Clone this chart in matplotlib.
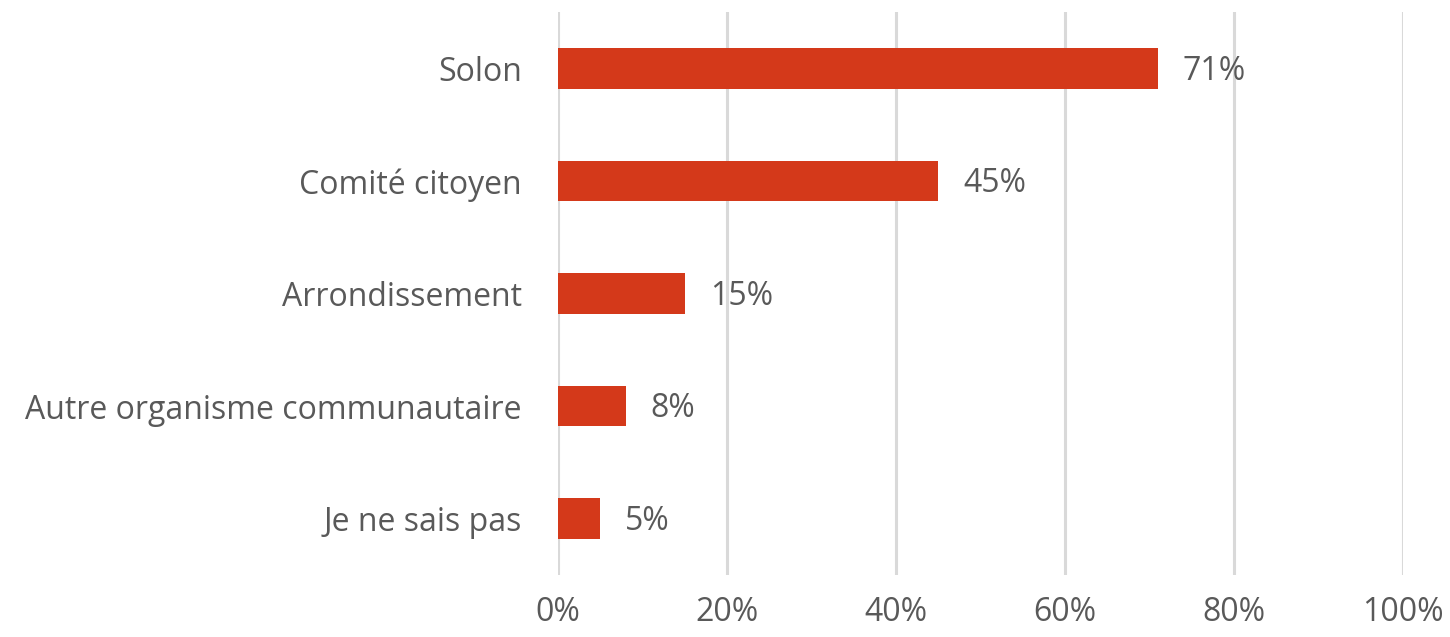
import matplotlib
matplotlib.use("Agg")
import matplotlib.pyplot as plt
from matplotlib.ticker import FuncFormatter

categories = ["Solon", "Comité citoyen", "Arrondissement",
              "Autre organisme communautaire", "Je ne sais pas"]
values = [71, 45, 15, 8, 5]
xticks = [0, 20, 40, 60, 80, 100]

BAR_COLOR = "#D4391A"
TEXT_COLOR = "#595959"
GRID_COLOR = "#D9D9D9"
FONT = ["Open Sans", "DejaVu Sans"]
FS = 23

plt.rcParams["font.family"] = FONT

fig = plt.figure(figsize=(14.5, 6.37), dpi=100)
ax = fig.add_axes([558 / 1450, 1 - 575 / 637, (1403 - 558) / 1450, (575 - 12) / 637])

ypos = list(range(len(categories)))
ax.barh(ypos, values, height=0.36, color=BAR_COLOR, zorder=3)

for y, v in zip(ypos, values):
    ax.annotate(f"{v}%", xy=(v, y), xytext=(18, -2), textcoords="offset points",
                va="center", ha="left", fontsize=FS, color=TEXT_COLOR)

ax.set_xlim(0, 100)
ax.set_ylim(len(categories) - 0.5, -0.5)
ax.set_xticks(xticks)
ax.xaxis.set_major_formatter(FuncFormatter(lambda x, _: f"{x:.0f}%"))
ax.set_yticks(ypos)
ax.set_yticklabels(categories)

ax.grid(axis="x", color=GRID_COLOR, linewidth=2.2, zorder=0)
ax.tick_params(axis="both", length=0, labelsize=FS, labelcolor=TEXT_COLOR)
ax.tick_params(axis="y", pad=26)
ax.tick_params(axis="x", pad=15)
for s in ax.spines.values():
    s.set_visible(False)

fig.savefig("out.png", dpi=100)
